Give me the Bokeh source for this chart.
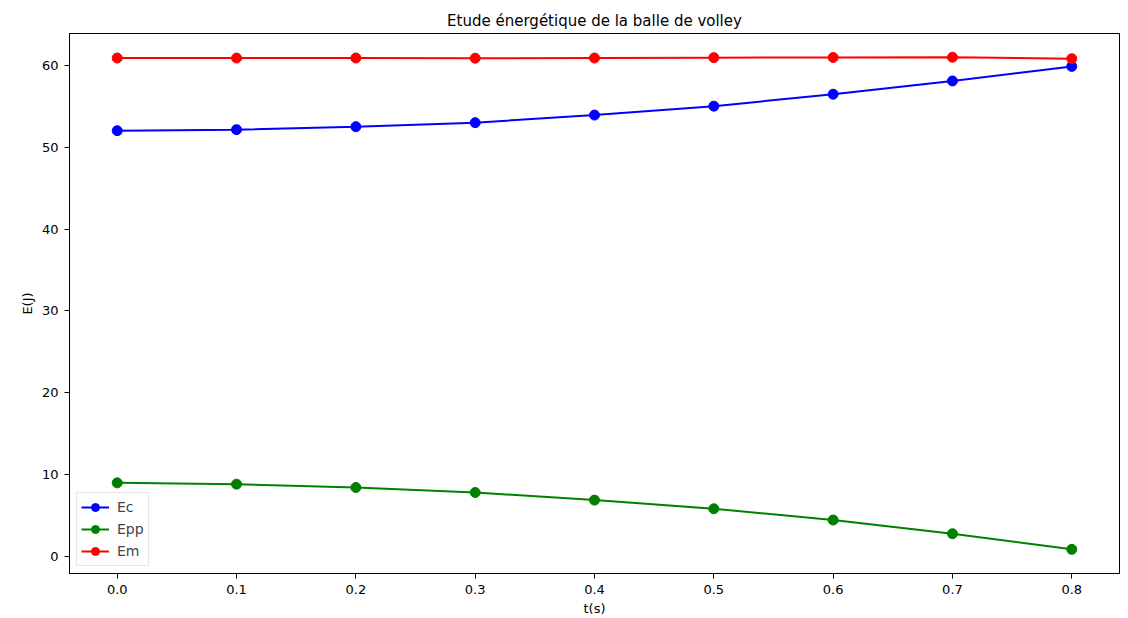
from bokeh.plotting import figure
from bokeh.models import FixedTicker, NumeralTickFormatter, Range1d
from bokeh.embed import file_html
from bokeh.resources import INLINE

t = [0.0, 0.1, 0.2, 0.3, 0.4, 0.5, 0.6, 0.7, 0.8]
Ec = [52.02, 52.15, 52.51, 53.0, 53.93, 55.02, 56.48, 58.1, 59.88]
Epp = [8.98, 8.82, 8.41, 7.80, 6.87, 5.81, 4.43, 2.76, 0.85]
Em = [60.9, 60.9, 60.9, 60.88, 60.9, 60.95, 60.97, 61.0, 60.82]

x_ticks = [0.0, 0.1, 0.2, 0.3, 0.4, 0.5, 0.6, 0.7, 0.8]
y_ticks = [0, 10, 20, 30, 40, 50, 60]

FONT = "DejaVu Sans"

p = figure(width=1128, height=618, output_backend="svg", toolbar_location=None,
           title="Etude énergétique de la balle de volley",
           x_range=Range1d(-0.04, 0.84), y_range=Range1d(-2.1, 63.9),
           min_border_left=69, min_border_right=9, min_border_top=33, min_border_bottom=44)

p.title.align = "center"
p.title.text_font = FONT
p.title.text_font_size = "15px"
p.title.text_font_style = "normal"
p.title.text_color = "#000000"
p.title.offset = 0
p.title.standoff = 8

series = [(Ec, "#0000ff", "Ec"), (Epp, "#008000", "Epp"), (Em, "#ff0000", "Em")]
for ys, col, lab in series:
    p.line(t, ys, line_color=col, line_width=2, legend_label=lab)
    p.scatter(t, ys, size=10, fill_color=col, line_color=col, legend_label=lab)

p.xgrid.visible = False
p.ygrid.visible = False
p.outline_line_color = "#000000"
p.outline_line_width = 1
p.background_fill_color = "white"
p.border_fill_color = "white"

p.xaxis.ticker = FixedTicker(ticks=x_ticks)
p.xaxis.formatter = NumeralTickFormatter(format="0.0")
p.yaxis.ticker = FixedTicker(ticks=y_ticks)

for ax in (p.xaxis[0], p.yaxis[0]):
    ax.axis_line_color = "#000000"
    ax.major_tick_line_color = "#000000"
    ax.major_tick_out = 5
    ax.major_tick_in = 0
    ax.minor_tick_line_color = None
    ax.major_label_text_font = FONT
    ax.major_label_text_font_size = "13px"
    ax.major_label_text_color = "#000000"
    ax.axis_label_text_font = FONT
    ax.axis_label_text_font_size = "13px"
    ax.axis_label_text_font_style = "normal"
    ax.axis_label_text_color = "#000000"

p.xaxis.axis_label = "t(s)"
p.yaxis.axis_label = "E(J)"
p.xaxis.major_label_standoff = 6
p.yaxis.major_label_standoff = 6
p.xaxis.axis_label_standoff = 4
p.yaxis.axis_label_standoff = 4

lg = p.legend[0]
lg.location = "bottom_left"
lg.margin = 7
lg.padding = 4
lg.spacing = 2
lg.label_text_font = FONT
lg.label_text_font_size = "14px"
lg.glyph_width = 28
lg.glyph_height = 20
lg.label_height = 20
lg.label_standoff = 8
lg.border_line_color = "#cccccc"
lg.border_line_width = 1
lg.background_fill_alpha = 0.8

open("out.html", "w").write(file_html(p, INLINE))
